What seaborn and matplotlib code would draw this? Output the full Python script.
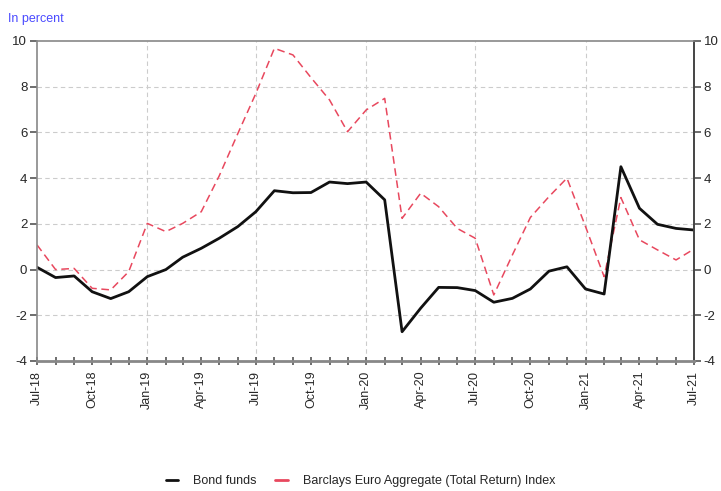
import matplotlib
matplotlib.use("Agg")
from matplotlib import pyplot as plt
from matplotlib.lines import Line2D
import pandas as pd
import seaborn as sns

# Monatswerte Jul-18 .. Jul-21 (in Prozent)
months = pd.date_range("2018-07-01", "2021-07-01", freq="MS")
bond_funds = [0.1, -0.35, -0.28, -0.97, -1.27, -0.97, -0.31, 0.0, 0.54, 0.93, 1.37, 1.88,
              2.53, 3.45, 3.36, 3.37, 3.83, 3.76, 3.83, 3.05, -2.72, -1.69, -0.78, -0.79,
              -0.92, -1.43, -1.26, -0.85, -0.07, 0.12, -0.85, -1.07, 4.5, 2.68, 1.98, 1.8, 1.73]
barclays = [1.08, 0.0, 0.05, -0.82, -0.89, -0.09, 2.02, 1.66, 2.02, 2.53, 4.1, 5.95,
            7.7, 9.68, 9.39, 8.4, 7.42, 6.03, 6.98, 7.49, 2.24, 3.34, 2.75, 1.8,
            1.37, -1.11, 0.64, 2.28, 3.19, 4.0, 1.88, -0.31, 3.15, 1.3, 0.86, 0.42, 0.9]
y_ticks = [-4, -2, 0, 2, 4, 6, 8, 10]

df = pd.DataFrame({"month": months, "Bond funds": bond_funds,
                   "Barclays": barclays})

sns.set_style("white")
plt.rcParams["font.family"] = ["Liberation Sans", "DejaVu Sans"]

fig = plt.figure(figsize=(7.21, 4.91), dpi=100)
ax = fig.add_axes([0.0513, 0.2648, 0.9113, 0.6517])

red = "#e8485e"
sns.lineplot(data=df, x="month", y="Barclays", ax=ax, color=red, linewidth=1.1,
             dashes=False, linestyle=(0, (5, 3)))
sns.lineplot(data=df, x="month", y="Bond funds", ax=ax, color="#111111", linewidth=2.0)

ax.set_xlim(months[0], months[-1])
ax.set_ylim(-4, 10)
ax.set_yticks(y_ticks)
ax.set_yticklabels([str(v) for v in y_ticks])
ax.set_xlabel("")
ax.set_ylabel("")

# Ticks jeden Monat, Beschriftung jedes Quartal
labels = [m.strftime("%b-%y") if i % 3 == 0 else "" for i, m in enumerate(months)]
ax.set_xticks(months)
ax.set_xticklabels(labels, rotation=90)
ax.tick_params(axis="x", direction="inout", length=6, width=1.2, color="#555555",
               labelsize=9, pad=4, bottom=True)
ax.tick_params(axis="y", direction="out", length=5, width=1.2, color="#555555",
               labelsize=9.5, left=True, right=True, labelright=True, pad=2)

# Gitter
for v in [-2, 0, 2, 4, 6, 8]:
    ax.axhline(v, color="#cccccc", linestyle=(0, (4, 3)), linewidth=0.8, zorder=0)
for i in [6, 12, 18, 24, 30]:
    ax.axvline(months[i], color="#cccccc", linestyle=(0, (4, 3)), linewidth=0.8, zorder=0)

for side in ["left", "top"]:
    ax.spines[side].set_color("#888888")
    ax.spines[side].set_linewidth(1.2)
ax.spines["bottom"].set_color("#888888")
ax.spines["bottom"].set_linewidth(2.0)
ax.spines["right"].set_color("#444444")
ax.spines["right"].set_linewidth(1.4)

fig.text(0.011, 0.955, "In percent", color="#4a4aff", fontsize=9)

handles = [Line2D([0], [0], color="#111111", linewidth=2),
           Line2D([0], [0], color=red, linewidth=2)]
fig.legend(handles, ["Bond funds", "Barclays Euro Aggregate (Total Return) Index"],
           loc="center", bbox_to_anchor=(0.5, 0.02), ncol=2, frameon=False,
           fontsize=9, handlelength=1.0, columnspacing=1.5, handletextpad=1.2)

fig.savefig("out.png", dpi=100)
